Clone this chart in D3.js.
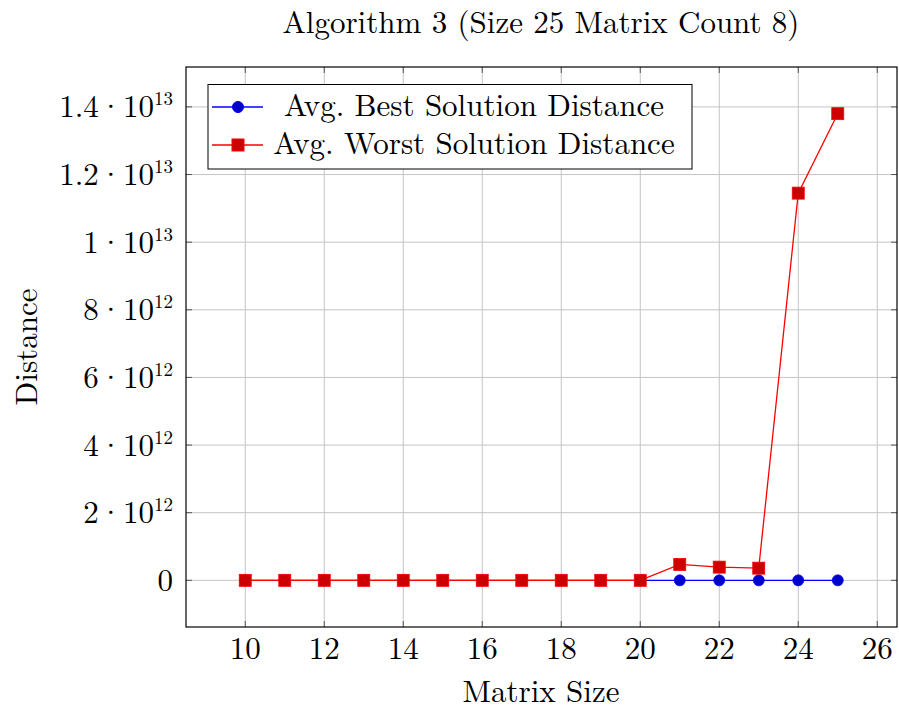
<!DOCTYPE html>
<html><head><meta charset="utf-8">
<script src="https://cdn.jsdelivr.net/npm/d3@7"></script>
<style>body{margin:0;background:#fff}svg text{font-family:"Latin Modern Roman","CMU Serif","Liberation Serif","DejaVu Serif",serif;fill:#000}</style>
</head><body><svg id="c" width="899" height="709"></svg>
<script>
const sizes = [10,11,12,13,14,15,16,17,18,19,20,21,22,23,24,25];
const bestDist = [0,0,0,0,0,0,0,0,0,0,0,0,0,0,0,0];
const worstDist = [0,0,0,0,0,0,0,0,0,0,0,0.47e12,0.39e12,0.36e12,11.45e12,13.8e12];
const xTicks = [10,12,14,16,18,20,22,24,26];
const yTicks = [0,2e12,4e12,6e12,8e12,1e13,1.2e13,1.4e13];
const yTickMant = ["0","2","4","6","8","1","1.2","1.4"];
const yTickExp = ["","12","12","12","12","13","13","13"];
const seriesNames = ["Avg. Best Solution Distance","Avg. Worst Solution Distance"];

const FS = 31;
const svg = d3.select("#c");
const L=186,R=897,T=67,B=627;
const x = d3.scaleLinear().domain([8.5,26.5]).range([L,R]);
const y = d3.scaleLinear().domain([-1.38e12,15.18e12]).range([B,T]);

// grid
const g = svg.append("g");
g.selectAll(".gx").data(xTicks).join("line").attr("x1",d=>x(d)).attr("x2",d=>x(d)).attr("y1",T).attr("y2",B).attr("stroke","#c4c4c4").attr("stroke-width",1);
g.selectAll(".gy").data(yTicks).join("line").attr("y1",d=>y(d)).attr("y2",d=>y(d)).attr("x1",L).attr("x2",R).attr("stroke","#c4c4c4").attr("stroke-width",1);
// ticks inward
const tk=6;
xTicks.forEach(d=>{
  g.append("line").attr("x1",x(d)).attr("x2",x(d)).attr("y1",B).attr("y2",B-tk).attr("stroke","#555");
  g.append("line").attr("x1",x(d)).attr("x2",x(d)).attr("y1",T).attr("y2",T+tk).attr("stroke","#555");
});
yTicks.forEach(d=>{
  g.append("line").attr("y1",y(d)).attr("y2",y(d)).attr("x1",L).attr("x2",L+tk).attr("stroke","#555");
  g.append("line").attr("y1",y(d)).attr("y2",y(d)).attr("x1",R).attr("x2",R-tk).attr("stroke","#555");
});

// x tick labels
svg.selectAll(".xl").data(xTicks).join("text").attr("x",d=>x(d)).attr("y",659).attr("text-anchor","middle").attr("font-size",FS).text(d=>d);
// y tick labels
yTicks.forEach((d,i)=>{
  const t = svg.append("text").attr("x",173).attr("y",y(d)+10.5).attr("text-anchor","end").attr("font-size",FS);
  if(yTickExp[i]===""){ t.text(yTickMant[i]); }
  else {
    t.append("tspan").text(yTickMant[i]);
    t.append("tspan").attr("dx",0).text("\u00B7");
    t.append("tspan").attr("dx",0).text("10");
    t.append("tspan").attr("dy",-12).attr("font-size",19).text(yTickExp[i]);
  }
});

// lines
const line = d3.line().x((d,i)=>x(sizes[i])).y(d=>y(d));
svg.append("path").datum(bestDist).attr("d",line).attr("fill","none").attr("stroke","#0000ff").attr("stroke-width",1.3);
svg.append("path").datum(worstDist).attr("d",line).attr("fill","none").attr("stroke","#ff0000").attr("stroke-width",1.3);
svg.selectAll(".bm").data(bestDist).join("circle").attr("cx",(d,i)=>x(sizes[i])).attr("cy",d=>y(d)).attr("r",5.5).attr("fill","#0000cc").attr("stroke","#0000ff").attr("stroke-width",0.8);
const s=12;
svg.selectAll(".wm").data(worstDist).join("rect").attr("x",(d,i)=>x(sizes[i])-s/2).attr("y",d=>y(d)-s/2).attr("width",s).attr("height",s).attr("fill","#cc0000").attr("stroke","#ff0000").attr("stroke-width",0.8);

// frame
svg.append("rect").attr("x",L).attr("y",T).attr("width",R-L).attr("height",B-T).attr("fill","none").attr("stroke","#000").attr("stroke-width",1.2);

// legend
const lg = svg.append("g");
lg.append("rect").attr("x",208).attr("y",84.5).attr("width",484).attr("height",84.5).attr("fill","#fff").attr("stroke","#000").attr("stroke-width",1);
[107,145].forEach((yy,i)=>{
  lg.append("line").attr("x1",212).attr("x2",263).attr("y1",yy).attr("y2",yy).attr("stroke",i?"#ff0000":"#0000ff").attr("stroke-width",1.3);
  if(i===0) lg.append("circle").attr("cx",238).attr("cy",yy).attr("r",5.5).attr("fill","#0000cc").attr("stroke","#0000ff");
  else lg.append("rect").attr("x",238-s/2).attr("y",yy-s/2).attr("width",s).attr("height",s).attr("fill","#cc0000").attr("stroke","#ff0000");
  lg.append("text").attr("x",474).attr("y",yy+9).attr("text-anchor","middle").attr("font-size",FS).text(seriesNames[i]);
});

// titles
svg.append("text").attr("x",541).attr("y",33).attr("text-anchor","middle").attr("font-size",FS).text("Algorithm 3 (Size 25 Matrix Count 8)");
svg.append("text").attr("x",541).attr("y",702).attr("text-anchor","middle").attr("font-size",FS).text("Matrix Size");
svg.append("text").attr("transform","translate(37,347) rotate(-90)").attr("text-anchor","middle").attr("font-size",FS).text("Distance");
</script></body></html>
